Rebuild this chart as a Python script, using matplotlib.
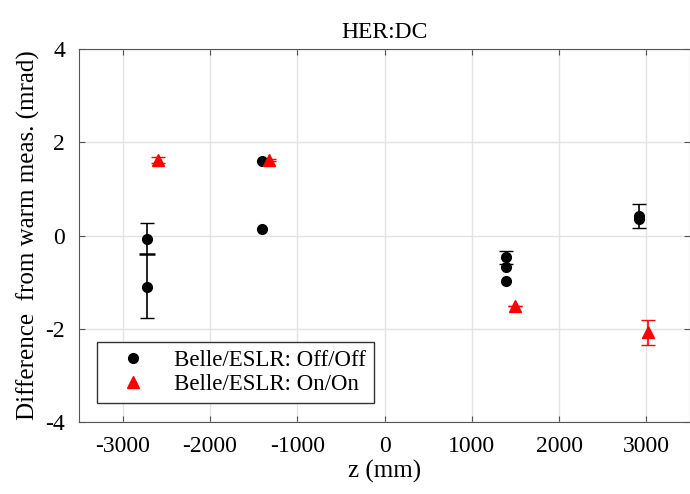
import numpy as np
import matplotlib
matplotlib.use('Agg')
import matplotlib.pyplot as plt

plt.rcParams['font.family'] = ['Liberation Serif', 'DejaVu Serif']
plt.rcParams['axes.unicode_minus'] = False

# Belle/ESLR Off/Off measurements
off_z = [-2720, -2720, -1400, -1400, 1390, 1390, 1390, 2920, 2920]
off_d = [-0.08, -1.10, 1.60, 0.15, -0.47, -0.68, -0.97, 0.42, 0.36]
# averaged points with error bars (Off/Off)
off_avg_z = [-2720, 1390, 2920]
off_avg_d = [-0.40, -0.47, 0.42]
off_err_lo = [1.37, 0.14, 0.25]
off_err_hi = [0.67, 0.14, 0.25]

# Belle/ESLR On/On measurements
on_z = [-2600, -1320, 1500, 3020]
on_d = [1.62, 1.62, -1.52, -2.08]
on_err = [0.06, 0.02, 0.0, 0.27]

fig = plt.figure(figsize=(6.9, 4.94), dpi=100)
ax = fig.add_axes([0.1145, 0.1457, 0.8855, 0.7551])

ax.errorbar(off_avg_z, off_avg_d, yerr=[off_err_lo, off_err_hi], fmt='none',
            ecolor='black', capsize=5, elinewidth=1.2, zorder=3)
# mean marker of the -2720 group
ax.plot(off_avg_z[:1], off_avg_d[:1], '_', color='black', markersize=12,
        mew=1.8, zorder=3)
ax.plot(off_z, off_d, 'o', color='black', markersize=7, zorder=4,
        label='Belle/ESLR: Off/Off')
ax.errorbar(on_z, on_d, yerr=on_err, fmt='none', ecolor='red',
            capsize=5, elinewidth=1.2, zorder=3)
ax.plot(on_z, on_d, '^', color='red', markersize=8, zorder=4,
        label='Belle/ESLR: On/On')

ax.set_xlim(-3500, 3500)
ax.set_ylim(-4, 4)
ax.set_xticks(np.arange(-3000, 3001, 1000))
ax.set_yticks([-4, -2, 0, 2, 4])
ax.grid(True, color='#e2e2e2', linewidth=1)
ax.set_axisbelow(True)
for s in ax.spines.values():
    s.set_color('#555555')
ax.tick_params(direction='in', length=4, color='#555555', labelsize=17,
               top=True, right=True, pad=10)

ax.set_title('HER:DC', fontsize=17, pad=8)
ax.set_xlabel('z (mm)', fontsize=18, labelpad=2)
ax.set_ylabel('Difference  from warm meas. (mrad)', fontsize=18, labelpad=4)

leg = ax.legend(loc='lower left', fontsize=16.5, fancybox=False, framealpha=1,
                edgecolor='#333333', borderpad=0.35, handletextpad=0.6,
                handlelength=2.4, labelspacing=0.15, borderaxespad=0,
                bbox_to_anchor=(0.03, 0.05))
leg.get_frame().set_linewidth(1)

fig.savefig('out.png', dpi=100)
